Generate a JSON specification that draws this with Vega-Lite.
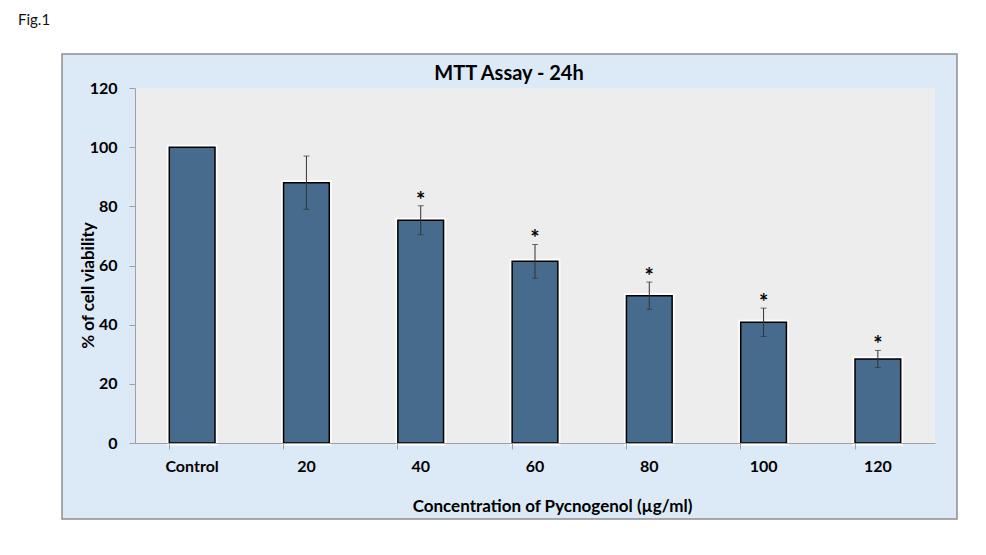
{
  "$schema": "https://vega.github.io/schema/vega-lite/v6.json",
  "width": 800,
  "height": 355,
  "autosize": {"type": "none"},
  "padding": {"left": 135, "top": 88, "right": 51, "bottom": 112},
  "background": "white",
  "config": {
    "font": "Lato",
    "view": {"stroke": null}
  },
  "datasets": {
    "bars": [
      {"group": "Control", "viability": 100, "err": 0, "sig": ""},
      {"group": "20", "viability": 88, "err": 9, "sig": ""},
      {"group": "40", "viability": 75.3, "err": 4.9, "sig": "*"},
      {"group": "60", "viability": 61.4, "err": 5.7, "sig": "*"},
      {"group": "80", "viability": 49.8, "err": 4.6, "sig": "*"},
      {"group": "100", "viability": 40.8, "err": 4.8, "sig": "*"},
      {"group": "120", "viability": 28.4, "err": 2.9, "sig": "*"}
    ],
    "frame": [{"x0": -73, "x1": 822, "y0": -25.7, "y1": 131.5, "px0": 0, "px1": 800, "py0": 0, "py1": 120, "fig": "Fig.1", "fx": -117, "fy": 143, "ttl": "MTT Assay - 24h", "tx": 374, "ty": 124.6}]
  },
  "layer": [
    {
      "data": {"name": "frame"},
      "layer": [
        {
          "mark": {"type": "rect", "fill": "#dce9f6", "stroke": "#8f8f8f", "strokeWidth": 1.5},
          "encoding": {
            "x": {"field": "x0", "type": "quantitative", "scale": {"domain": [0, 800], "nice": false, "zero": false}, "axis": null},
            "x2": {"field": "x1"},
            "y": {"field": "y0", "type": "quantitative", "scale": {"domain": [0, 120], "nice": false}, "axis": null},
            "y2": {"field": "y1"}
          }
        },
        {
          "mark": {"type": "rect", "fill": "#ededed"},
          "encoding": {
            "x": {"field": "px0", "type": "quantitative", "axis": null},
            "x2": {"field": "px1"},
            "y": {"field": "py0", "type": "quantitative", "axis": null},
            "y2": {"field": "py1"}
          }
        },
        {
          "mark": {"type": "text", "fontSize": 15, "font": "Lato", "align": "left", "baseline": "middle", "color": "#111"},
          "encoding": {
            "x": {"field": "fx", "type": "quantitative", "axis": null},
            "y": {"field": "fy", "type": "quantitative", "axis": null},
            "text": {"field": "fig"}
          }
        },
        {
          "mark": {"type": "text", "fontSize": 20, "fontWeight": "bold", "font": "Lato", "align": "center", "baseline": "middle", "color": "#000"},
          "encoding": {
            "x": {"field": "tx", "type": "quantitative", "axis": null},
            "y": {"field": "ty", "type": "quantitative", "axis": null},
            "text": {"field": "ttl"}
          }
        }
      ]
    },
    {
      "data": {"name": "bars"},
      "layer": [
        {
          "mark": {"type": "bar", "color": "#476b8d", "stroke": "#ffffff", "strokeWidth": 5},
          "encoding": {
            "x": {
              "field": "group", "type": "nominal", "sort": null,
              "scale": {"paddingInner": 0.6, "paddingOuter": 0.3},
              "axis": {
                "title": "Concentration of Pycnogenol (µg/ml)", "zindex": 1,
                "labelAngle": 0, "labelFontSize": 16, "labelFontWeight": "bold", "labelColor": "#000", "labelFont": "Lato",
                "labelPadding": 9, "bandPosition": 0, "tickSize": 6, "tickColor": "#a0a0a0",
                "domainColor": "#a0a0a0", "grid": false,
                "titleFontSize": 17, "titleFontWeight": "bold", "titleColor": "#000", "titleFont": "Lato",
                "titlePadding": 24, "titleX": 417
              }
            },
            "y": {
              "field": "viability", "type": "quantitative", "title": "% of cell viability",
              "scale": {"domain": [0, 120], "nice": false},
              "axis": {
                "values": [0, 20, 40, 60, 80, 100, 120], "zindex": 1,
                "labelFontSize": 16, "labelFontWeight": "bold", "labelColor": "#000", "labelFont": "Lato",
                "labelPadding": 12, "tickSize": 6, "tickColor": "#a0a0a0",
                "domainColor": "#a0a0a0", "grid": false,
                "titleFontSize": 17, "titleFontWeight": "bold", "titleColor": "#000", "titleFont": "Lato",
                "titlePadding": -8, "titleY": 197
              }
            }
          }
        },
        {
          "mark": {"type": "bar", "color": "#476b8d", "stroke": "#000", "strokeWidth": 1.5},
          "encoding": {
            "x": {"field": "group", "type": "nominal", "sort": null},
            "y": {"field": "viability", "type": "quantitative", "title": "% of cell viability"}
          }
        },
        {
          "transform": [
            {"filter": "datum.err > 0"}
          ],
          "mark": {"type": "errorbar", "ticks": {"size": 6, "color": "#333"}, "rule": {"color": "#333", "strokeWidth": 1}},
          "encoding": {
            "x": {"field": "group", "type": "nominal", "sort": null},
            "y": {"field": "viability", "type": "quantitative", "title": "% of cell viability"},
            "yError": {"field": "err"}
          }
        },
        {
          "transform": [
            {"filter": "datum.sig != ''"},
            {"calculate": "datum.viability + datum.err", "as": "top"}
          ],
          "mark": {"type": "text", "fontSize": 22, "fontWeight": "bold", "dy": 2, "baseline": "alphabetic", "color": "#000"},
          "encoding": {
            "x": {"field": "group", "type": "nominal", "sort": null},
            "y": {"field": "top", "type": "quantitative", "title": "% of cell viability"},
            "text": {"field": "sig"}
          }
        }
      ]
    }
  ],
  "resolve": {"scale": {"x": "independent", "y": "independent"}, "axis": {"x": "independent", "y": "independent"}}
}
